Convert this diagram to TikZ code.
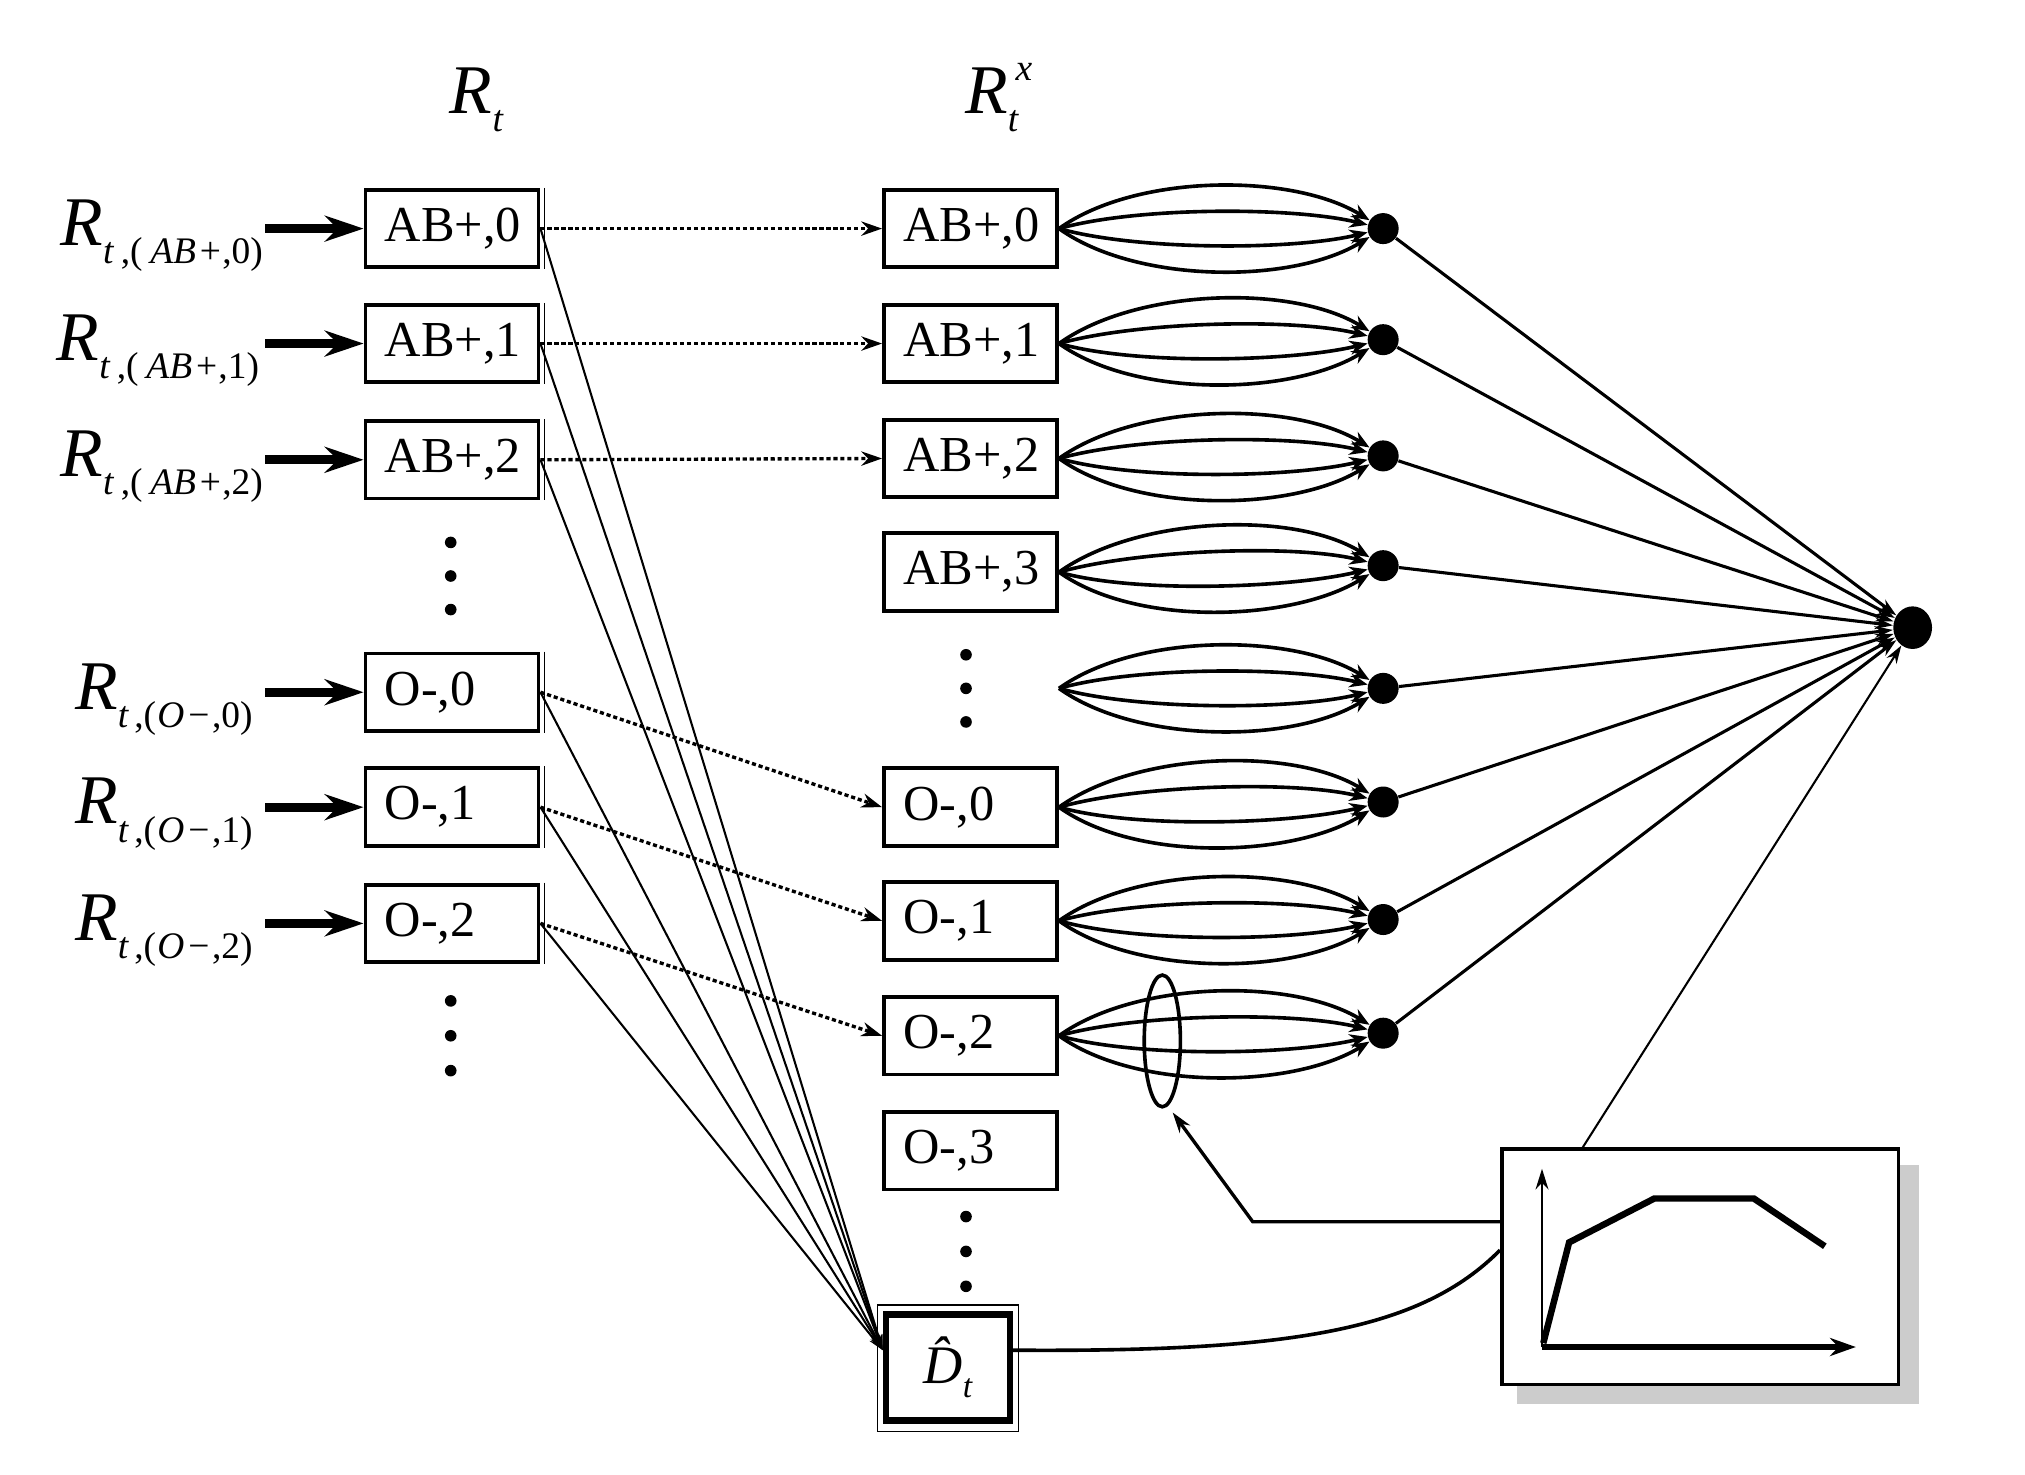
\documentclass[tikz,border=0pt]{standalone}
\usepackage{fontspec}
\setmainfont{Liberation Serif}
\usetikzlibrary{arrows.meta,shapes.geometric}
\newcommand{\bigR}{{\fontsize{27}{27}\selectfont\itshape R}}
\newcommand{\Rlab}[1]{\bigR\raisebox{-7pt}{\fontsize{14.5}{14.5}\selectfont #1}}
\newcommand{\ABsub}[1]{\textit{t}\kern2.5pt,(\kern3pt\textit{AB}\kern1.5pt+\kern0.5pt,#1)}
\newcommand{\Osub}[1]{\textit{t}\kern2pt,(\kern0.5pt\textit{O}\kern1.5pt−\kern1pt,#1)}
\begin{document}
\begin{tikzpicture}[x=0.5pt,y=-0.5pt,
  box/.style={draw, line width=1.5pt, minimum height=30pt, text width=52pt,
    inner xsep=7.5pt, inner ysep=0pt, align=left, font=\fontsize{19.5}{19.5}\selectfont},
  lab/.style={anchor=base east, inner sep=0pt},
  bigarr/.style={line width=3.5pt, -{Stealth[length=15pt,width=10pt,inset=5pt]}},
  dotarr/.style={line width=1.3pt, dash pattern=on 1.6pt off 1.1pt, -{Stealth[length=8pt,width=5.5pt]}},
  thinarr/.style={line width=0.8pt, -{Stealth[length=6pt,width=3.5pt]}},
  bund/.style={line width=1.4pt, -{Stealth[length=7pt,width=5.5pt]}},
  toB/.style={line width=1.2pt, -{Stealth[length=7pt,width=4.5pt]}},
  sdot/.style={circle, fill, inner sep=0pt, minimum size=12pt}]
\useasboundingbox (0,0) rectangle (1568,1142);

% titles
\node[anchor=base west, inner sep=0pt] (T1) at (348,88) {\Rlab{\textit{t}}};
\node[anchor=base west, inner sep=0pt] (T2) at (747,88)
  {\bigR\rlap{\raisebox{-7pt}{\fontsize{14.5}{14.5}\selectfont\itshape t}}\kern3pt\raisebox{13pt}{\fontsize{14.5}{14.5}\selectfont\itshape x}};

% left column boxes
\node[box] (L0) at (350,177) {AB+,0};
\node[box] (L1) at (350,266) {AB+,1};
\node[box] (L2) at (350,356) {AB+,2};
\node[box] (L3) at (350,536) {O-,0};
\node[box] (L4) at (350,625) {O-,1};
\node[box] (L5) at (350,715) {O-,2};
\foreach \n in {L0,L1,L2,L3,L4,L5}
  \draw[line width=0.5pt] ([xshift=1.6pt]\n.north east) -- ([xshift=1.6pt]\n.south east);

% left labels
\node[lab] (a0) at (204,190) {\Rlab{\ABsub{0}}};
\node[lab] (a1) at (201,279) {\Rlab{\ABsub{1}}};
\node[lab] (a2) at (204,369) {\Rlab{\ABsub{2}}};
\node[lab] (a3) at (196,549) {\Rlab{\Osub{0}}};
\node[lab] (a4) at (196,638) {\Rlab{\Osub{1}}};
\node[lab] (a5) at (196,728) {\Rlab{\Osub{2}}};
\foreach \n in {L0,L1,L2,L3,L4,L5}
  \draw[bigarr] ([xshift=-38pt]\n.west) -- (\n.west);

% ellipsis dots
\foreach \y in {420,446,472,775,802,829} \fill (349,\y) circle[radius=4.5];
\foreach \y in {507,533,559,942,969,996} \fill (748,\y) circle[radius=4.5];

% right column boxes
\node[box] (R0) at (751.5,177) {AB+,0};
\node[box] (R1) at (751.5,266) {AB+,1};
\node[box] (R2) at (751.5,355) {AB+,2};
\node[box] (R3) at (751.5,443) {AB+,3};
\coordinate (Rd) at (820,533);
\node[box] (R4) at (751.5,625) {O-,0};
\node[box] (R5) at (751.5,713) {O-,1};
\node[box] (R6) at (751.5,802) {O-,2};
\node[box] (R7) at (751.5,891) {O-,3};

% D hat box
\node[draw, line width=2.5pt, minimum width=48pt, minimum height=41pt, inner sep=0pt] (Dh) at (734,1059)
  {{\fontsize{21}{21}\selectfont\itshape\^{D}}\raisebox{-5.5pt}{\fontsize{13}{13}\selectfont\itshape t}};
\draw[line width=0.5pt] ([shift={(-4,-5)}]Dh.north west) rectangle ([shift={(4,6)}]Dh.south east);

% dotted arrows
\draw[dotarr] (L0.east) -- (R0.west);
\draw[dotarr] (L1.east) -- (R1.west);
\draw[dotarr] (L2.east) -- (R2.west);
\draw[dotarr] (L3.east) -- (R4.west);
\draw[dotarr] (L4.east) -- (R5.west);
\draw[dotarr] (L5.east) -- (R6.west);

% thin lines to D hat
\foreach \n in {L0,L1,L2,L3,L4,L5}
  \draw[thinarr] (\n.east) -- (Dh.165);

% small dots and big dot
\foreach \i/\y in {0/177,1/263,2/353,3/438,4/533,5/621,6/712,7/800}
  \node[sdot] (d\i) at (1071,\y) {};
\node[ellipse, fill, inner sep=0pt, minimum width=15pt, minimum height=16.5pt] (B) at (1481,486) {};

% bundles
\foreach \s/\d in {R0.east/d0,R1.east/d1,R2.east/d2,R3.east/d3,Rd/d4,R4.east/d5,R5.east/d6,R6.east/d7}
  \foreach \h in {-43,-17,17,43}
    \draw[bund] (\s) .. controls +(60,\h) and +(-70,\h) .. (\d);

\foreach \i in {0,...,7}
  \draw[toB] (d\i) -- (B);

% ellipse around O-,2 bundle
\node[ellipse, draw, line width=1.4pt, inner sep=0pt, minimum width=14pt, minimum height=51pt] (ell) at (900,806) {};

% chart
\fill[gray!40] (1175,902) rectangle (1486,1087);
\node[draw, fill=white, line width=1.5pt, minimum width=153.5pt, minimum height=91pt, inner sep=0pt] (chart) at (1316.5,981) {};
\draw[line width=0.8pt, -{Stealth[length=8pt,width=5pt]}] (1194,1043) -- (1194,905);
\draw[line width=2pt, -{Stealth[length=10pt,width=7pt]}] (1194,1043) -- (1437,1043);
\draw[line width=2.5pt, line join=miter] (1195,1040) -- (1215,962) -- (1281,928) -- (1358,928) -- (1413,965);

% chart connectors
\draw[line width=0.8pt, -{Stealth[length=7pt,width=4.5pt]}] ([xshift=32pt]chart.north west) -- (B);
\draw[line width=1.3pt, -{Stealth[length=8pt,width=5pt]}] ([yshift=17.5pt]chart.west) -- (970,946) -- ([shift={(8,3)}]ell.south);
\draw[line width=1.4pt] (Dh.15) .. controls (1000,1047) and (1100,1030) .. ([yshift=6.5pt]chart.west);
\end{tikzpicture}
\end{document}
